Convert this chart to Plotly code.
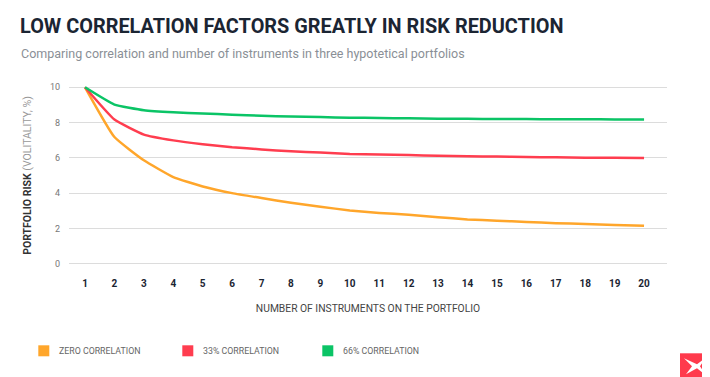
import plotly.graph_objects as go

instruments = list(range(1, 21))
tick_labels = [str(i) for i in instruments]
zero_corr = [10.0, 7.18, 5.86, 4.91, 4.38, 4.0, 3.72, 3.46, 3.23, 3.02, 2.88, 2.78, 2.64, 2.51, 2.44, 2.36, 2.30, 2.25, 2.19, 2.15]
corr_33 = [10.0, 8.17, 7.32, 6.99, 6.77, 6.60, 6.48, 6.37, 6.30, 6.22, 6.19, 6.16, 6.12, 6.09, 6.07, 6.05, 6.03, 6.01, 6.00, 5.99]
corr_66 = [10.0, 9.02, 8.70, 8.58, 8.51, 8.45, 8.39, 8.34, 8.31, 8.28, 8.26, 8.24, 8.22, 8.21, 8.20, 8.20, 8.19, 8.19, 8.18, 8.18]
series_names = ["ZERO CORRELATION", "33% CORRELATION", "66% CORRELATION"]
colors = ["#ffa62b", "#ff3d4f", "#0bc466"]
y_ticks = [0, 2, 4, 6, 8, 10]

# page offset (body margin) compensation
OFF = 8
W, H = 710, 377
ML, MT, PW, PH = 69 - OFF, 81.7 - OFF, 598, 187
MR = W - ML - PW
MB = H - MT - PH


def px(xs):
    return (xs - OFF - ML) / PW


def py(ys):
    return (MT + PH - (ys - OFF)) / PH


def cx(xs):
    return (xs - OFF) / W


def cy(ys):
    return 1 - (ys - OFF) / H


fig = go.Figure()
for name, vals, col in zip(series_names, [zero_corr, corr_33, corr_66], colors):
    fig.add_trace(go.Scatter(x=instruments, y=vals, mode="lines", name=name,
                             line=dict(color=col, width=2.5, shape="spline", smoothing=0.4),
                             showlegend=False, hoverinfo="x+y"))

fig.update_layout(
    width=W, height=H,
    margin=dict(l=ML, r=MR, t=MT, b=MB),
    paper_bgcolor="white", plot_bgcolor="white",
    font=dict(family="Roboto", color="#555"),
    title=dict(text="<b>LOW CORRELATION FACTORS GREATLY IN RISK REDUCTION</b>",
               x=cx(20), xanchor="left", xref="container",
               y=cy(26), yanchor="middle", yref="container",
               font=dict(family="Roboto", size=19.9, color="#1b2533")),
    showlegend=False,
)
fig.add_annotation(text="Comparing correlation and number of instruments in three hypotetical portfolios",
                   xref="paper", yref="paper", x=px(19), y=py(53),
                   xanchor="left", yanchor="middle", showarrow=False,
                   font=dict(family="Roboto", size=12.5, color="#8a8f96"))

# manual legend (square swatches + labels)
legend_x = [38.3, 182.3, 322.3]
for name, col, lx in zip(series_names, colors, legend_x):
    fig.add_shape(type="rect", xref="paper", yref="paper", x0=px(lx), x1=px(lx + 11),
                  y0=py(345), y1=py(356), fillcolor=col, line_width=0)
    fig.add_annotation(text=name, xref="paper", yref="paper", x=px(lx + 18.4), y=py(350.5),
                       xanchor="left", yanchor="middle", showarrow=False,
                       font=dict(family="Roboto", size=8.8, color="#666"))

fig.update_xaxes(range=[0.456, 20.78], tickvals=instruments, ticktext=tick_labels,
                 showgrid=False, zeroline=False, showline=False,
                 tickfont=dict(family="Roboto", size=10, color="#1b2533", weight="bold"),
                 ticklabelstandoff=7,
                 title=dict(text="NUMBER OF INSTRUMENTS ON THE PORTFOLIO", standoff=16,
                            font=dict(family="Roboto", size=10.3, color="#444")))
fig.update_yaxes(range=[-0.3, 10.3], tickvals=y_ticks, showgrid=True, gridcolor="#dcdcdc",
                 gridwidth=1, zeroline=False, showline=False,
                 tickfont=dict(family="Roboto", size=9, color="#777"),
                 ticklabelstandoff=8,
                 title=dict(text="<b>PORTFOLIO RISK</b> <span style='color:#999'>(VOLITALITY, %)</span>",
                            standoff=16, font=dict(family="Roboto", size=10.5, color="#333")))

# logo
fig.add_shape(type="rect", xref="paper", yref="paper", x0=px(680), x1=px(712),
              y0=py(353), y1=py(379), fillcolor="#ff3a4c", line_width=0, layer="above")
pts = [(684, 358), (697, 364), (706, 357), (700, 366), (706, 375), (697, 368), (686, 374), (692, 366)]
path = "M " + " L ".join(f"{px(a):.5f},{py(b):.5f}" for a, b in pts) + " Z"
fig.add_shape(type="path", xref="paper", yref="paper", path=path,
              fillcolor="white", line_width=0, layer="above")

fig.write_html("out.html")
